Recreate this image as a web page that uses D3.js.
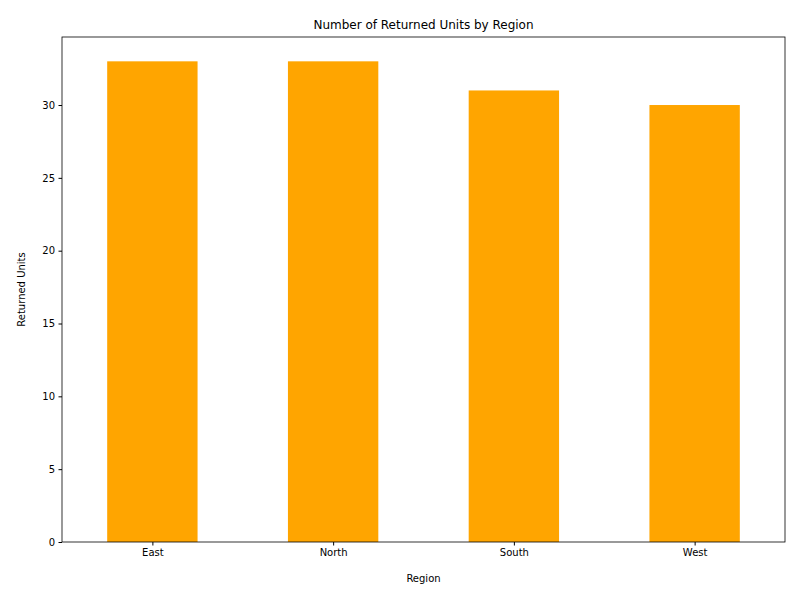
<!DOCTYPE html>
<html><head><meta charset="utf-8">
<script src="https://cdn.jsdelivr.net/npm/d3@7"></script>
<style>body{margin:0;background:#fff}text{font-family:"DejaVu Sans",sans-serif}</style>
</head><body><svg id="c" width="800" height="600"></svg>
<script>
const regions = ["East","North","South","West"];
const returnedUnits = [33,33,31,30];
const yTicks = [0,5,10,15,20,25,30];

const svg = d3.select("#c");
const L=62,R=785,T=37,B=542;
const x = d3.scaleLinear().domain([-0.5,3.5]).range([L,R]);
const y = d3.scaleLinear().domain([0,34.67]).range([B,T]);

svg.selectAll("rect.bar").data(returnedUnits).enter().append("rect")
  .attr("x",(d,i)=>x(i-0.25)).attr("width",x(0.25)-x(-0.25))
  .attr("y",d=>y(d)).attr("height",d=>B-y(d)).attr("fill","#FFA500");

const ya = svg.append("g").attr("transform",`translate(${L},0)`)
  .call(d3.axisLeft(y).tickValues(yTicks).tickSize(3.5).tickPadding(3.5));
const xa = svg.append("g").attr("transform",`translate(0,${B})`)
  .call(d3.axisBottom(x).tickValues([0,1,2,3]).tickFormat(i=>regions[i]).tickSize(3.5).tickPadding(3.5));
[ya,xa].forEach(a=>{a.select(".domain").remove();a.selectAll("text").attr("font-size",10).attr("fill","#000");a.selectAll("line").attr("stroke","#000");});

svg.append("rect").attr("x",L).attr("y",T).attr("width",R-L).attr("height",B-T)
  .attr("fill","none").attr("stroke","#000").attr("stroke-width",0.8);

svg.append("text").attr("x",(L+R)/2).attr("y",29).attr("text-anchor","middle").attr("font-size",12).text("Number of Returned Units by Region");
svg.append("text").attr("x",(L+R)/2).attr("y",582).attr("text-anchor","middle").attr("font-size",10).text("Region");
svg.append("text").attr("transform",`translate(25,${(T+B)/2}) rotate(-90)`).attr("text-anchor","middle").attr("font-size",10).text("Returned Units");
</script></body></html>
